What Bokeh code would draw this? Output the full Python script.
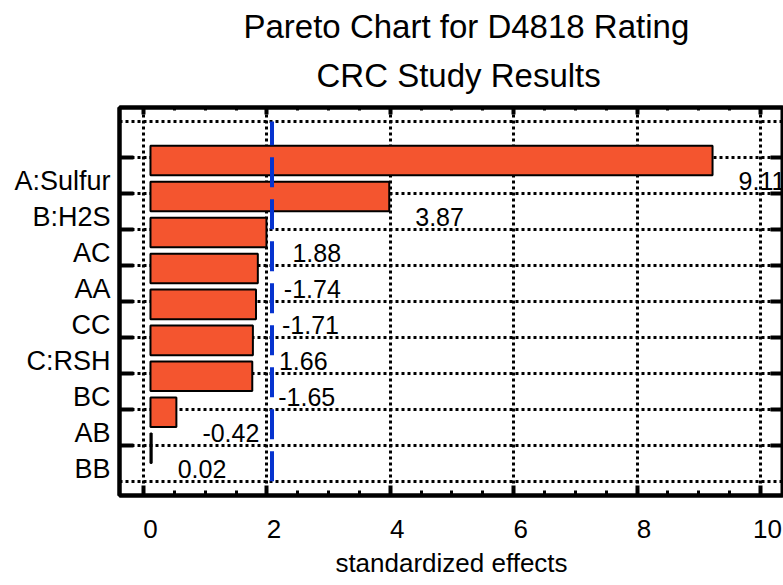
from bokeh.plotting import figure
from bokeh.models import (Range1d, LinearAxis, FixedTicker, Title, Grid)
from bokeh.embed import file_html
from bokeh.resources import INLINE
from bokeh.core.properties import value

# ---- data -------------------------------------------------------------
factors = ["A:Sulfur", "B:H2S", "AC", "AA", "CC", "C:RSH", "BC", "AB", "BB"]
effects = [9.11, 3.87, 1.88, -1.74, -1.71, 1.66, -1.65, -0.42, 0.02]
effect_labels = ["9.11", "3.87", "1.88", "-1.74", "-1.71", "1.66", "-1.65", "-0.42", "0.02"]
critical_value = 1.97
x_ticks = [0, 2, 4, 6, 8, 10]

title_line1 = "Pareto Chart for D4818 Rating"
title_line2 = "CRC Study Results"
x_label = "standardized effects"

# ---- derived ----------------------------------------------------------
n = len(factors)
pos = [n - i for i in range(n)]          # top bar first
mag = [abs(v) for v in effects]
label_pos = [q - 0.58 for q in pos]

# the frame decorations (grid, ticks) sit slightly offset from the bars
gx_shift = -0.113
gy_shift = 0.083
grid_x = [t + gx_shift for t in x_ticks]
minor_x = [t + gx_shift + k * 0.5 for t in x_ticks for k in (1, 2, 3)]
grid_y = [k + gy_shift for k in range(n + 2)]
tick_y = [q + gy_shift for q in pos]

FONT = "Liberation Sans"
BAR = "#F4552F"
BLUE = "#0633CF"

p = figure(width=783, height=585, output_backend="svg", toolbar_location=None,
           x_range=Range1d(-0.502, 10.26), y_range=Range1d(-0.31, 10.47),
           x_axis_location=None, y_axis_location=None,
           min_border_left=119, min_border_right=0, min_border_top=107, min_border_bottom=90,
           background_fill_color="white", border_fill_color="white")
p.outline_line_color = "black"
p.outline_line_width = 4
p.xgrid.visible = False
p.ygrid.visible = False

xt_grid = FixedTicker(ticks=grid_x, minor_ticks=minor_x)

# grids (dotted)
gx = Grid(dimension=0, ticker=FixedTicker(ticks=grid_x), grid_line_color="black",
          grid_line_width=3, grid_line_dash="3 3")
gy = Grid(dimension=1, ticker=FixedTicker(ticks=grid_y),
          grid_line_color="black", grid_line_width=3, grid_line_dash="3 3")
p.add_layout(gx, "center")
p.add_layout(gy, "center")

def blank_axis(ticker, tick_in, minor_in=0):
    ax = LinearAxis(ticker=ticker, major_label_text_color=None, major_label_standoff=0,
                    major_tick_in=tick_in, major_tick_out=0, major_tick_line_width=4,
                    minor_tick_in=minor_in, minor_tick_out=0, minor_tick_line_width=3,
                    axis_line_width=4, axis_line_color="black")
    if minor_in == 0:
        ax.minor_tick_line_color = None
    return ax

# bottom: tick marks (inner) + labels (outer)
p.add_layout(blank_axis(xt_grid, 10, 5), "below")
bottom = LinearAxis(ticker=FixedTicker(ticks=x_ticks), axis_label=x_label,
                    major_tick_in=0, major_tick_out=0, major_tick_line_color=None,
                    minor_tick_line_color=None, axis_line_color=None,
                    major_label_standoff=24, axis_label_standoff=7,
                    major_label_text_font=FONT, major_label_text_font_size="26px",
                    major_label_text_color="black",
                    axis_label_text_font=FONT, axis_label_text_font_size="26px",
                    axis_label_text_font_style="normal", axis_label_text_color="black")
p.add_layout(bottom, "below")

# top axis (ticks only)
p.add_layout(blank_axis(xt_grid, 7, 3), "above")

# left tick axis (inner) and label axis (outer)
p.add_layout(blank_axis(FixedTicker(ticks=tick_y), 14), "left")
lab_axis = LinearAxis(ticker=FixedTicker(ticks=label_pos),
                      major_label_overrides={lp: f for lp, f in zip(label_pos, factors)},
                      major_tick_in=0, major_tick_out=0, axis_line_color=None,
                      minor_tick_line_color=None, major_tick_line_color=None,
                      major_label_standoff=9, major_label_text_font=FONT,
                      major_label_text_font_size="27px", major_label_text_color="black")
p.add_layout(lab_axis, "left")

# right tick axis
p.add_layout(blank_axis(FixedTicker(ticks=tick_y), 13), "right")

# titles
t2 = Title(text=title_line2, align="left", offset=197, text_font=FONT, vertical_align="top",
           text_font_size="33px", text_font_style="normal", text_color="black", standoff=24)
p.add_layout(t2, "above")
t1 = Title(text=title_line1, align="left", offset=124, text_font=FONT, vertical_align="bottom",
           text_font_size="33px", text_font_style="normal", text_color="black", standoff=0)
p.add_layout(t1, "above")

# bars
p.hbar(y=pos, left=0, right=mag, height=0.82, fill_color=BAR, line_color="black", line_width=2)

# critical line (spans the grid)
p.segment(x0=[critical_value], y0=[grid_y[0]], x1=[critical_value], y1=[grid_y[-1]],
          line_color=BLUE, line_width=4, line_dash="30 12")

# value labels
p.text(x=mag, y=pos, text=effect_labels, x_offset=26, y_offset=21,
       text_font=value(FONT), text_font_size="25px", text_baseline="middle",
       text_align="left", text_color="black")

open("out.html", "w").write(file_html(p, INLINE))
